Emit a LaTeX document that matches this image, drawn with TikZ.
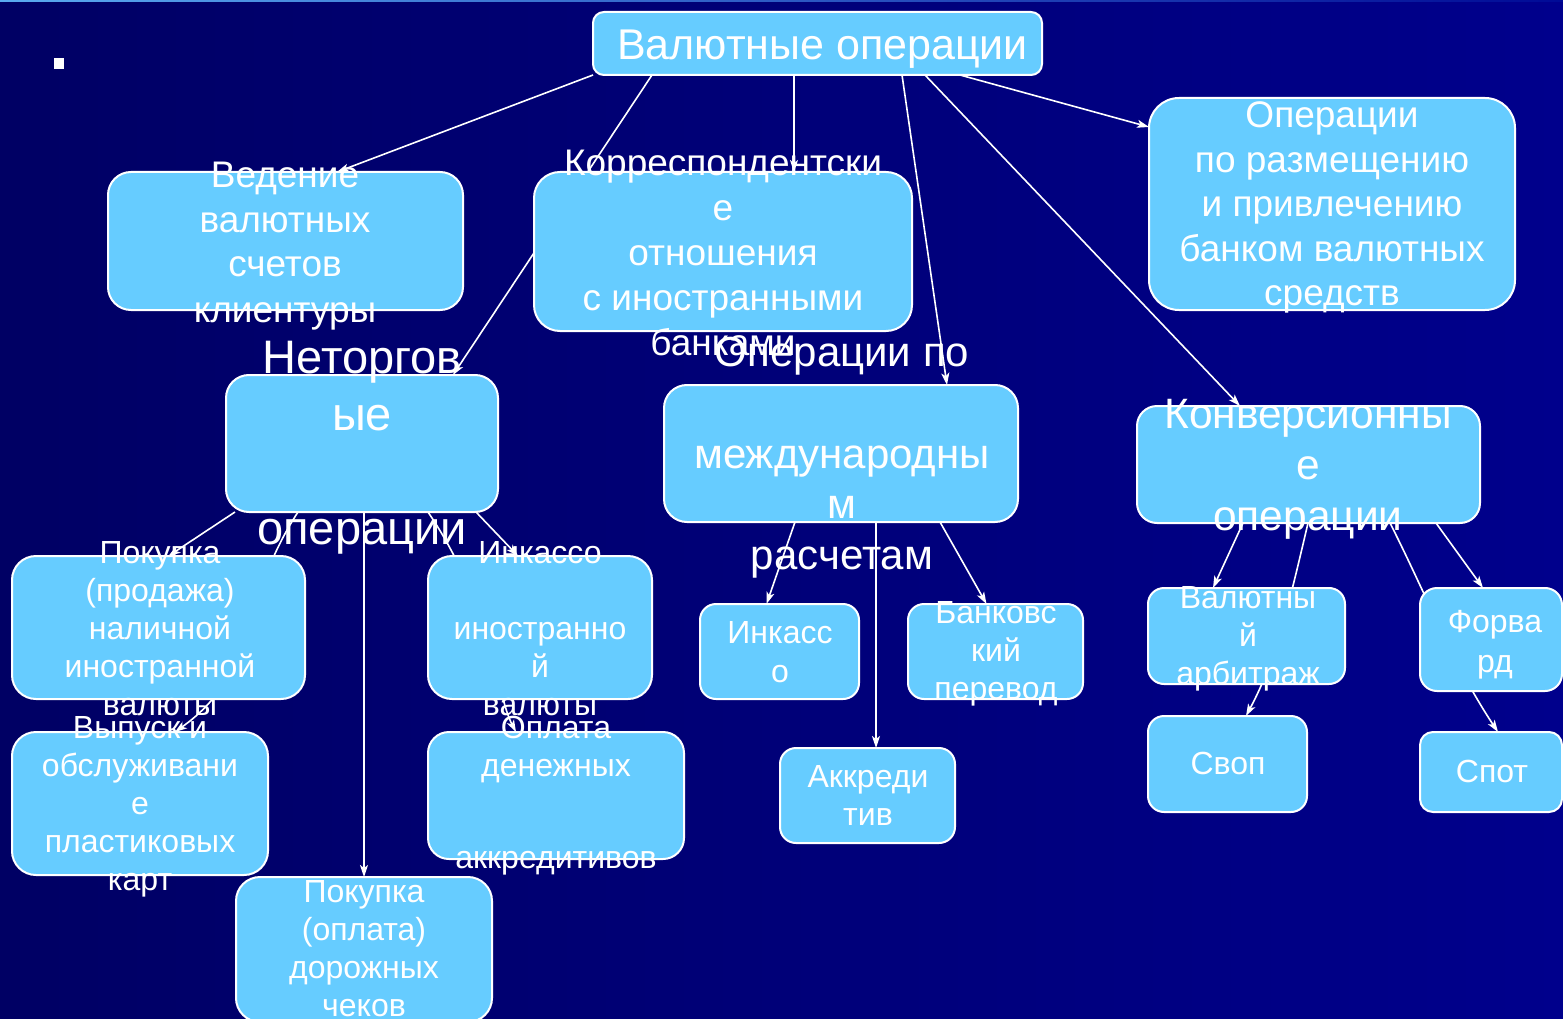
\documentclass[tikz,border=0pt]{standalone}
\usepackage{fontspec}
\setmainfont{Liberation Sans}
\usetikzlibrary{arrows.meta}
\definecolor{boxblue}{RGB}{102,204,255}
\definecolor{bgleft}{RGB}{0,0,100}
\definecolor{bgright}{RGB}{0,0,140}
\pgfdeclarelayer{bg}
\pgfdeclarelayer{lines}
\pgfsetlayers{bg,lines,main}
\newcommand{\rows}[3]{\fontsize{#1}{#2}\selectfont\begin{tabular}{@{}c@{}}#3\end{tabular}}
\tikzset{
  box/.style={draw=white, line width=2pt, fill=boxblue, rounded corners=#1, inner sep=0pt, outer sep=0pt},
  txt/.style={text=white, inner sep=0pt, outer sep=0pt, anchor=center},
  conn/.style={draw=white, line width=1.6pt, -{Stealth[length=12pt,width=8pt,inset=3pt]}},
}
\begin{document}
\begin{tikzpicture}[x=1pt,y=-1pt]
\useasboundingbox (0,0) rectangle (1563,1019);
\begin{pgfonlayer}{bg}
  \shade[left color=bgleft, right color=bgright] (0,0) rectangle (1563,1019);
  \shade[left color={rgb,255:red,90;green,170;blue,240}, right color={rgb,255:red,0;green,10;blue,150}] (0,0) rectangle (1563,1.5);
  \fill[white] (54,58) rectangle (64,69);
\end{pgfonlayer}

% boxes
\node[box=11pt, minimum width=449pt, minimum height=63pt]  (top)  at (817.5,43.5) {};
\node[box=23pt, minimum width=355pt, minimum height=138pt] (ved)  at (285.5,241) {};
\node[box=26pt, minimum width=378pt, minimum height=159pt] (kor)  at (723,251.5) {};
\node[box=30pt, minimum width=366pt, minimum height=212pt] (razm) at (1332,204) {};
\node[box=23pt, minimum width=272pt, minimum height=137pt] (neto) at (362,443.5) {};
\node[box=23pt, minimum width=354pt, minimum height=137pt] (mezh) at (841,453.5) {};
\node[box=20pt, minimum width=343pt, minimum height=117pt] (konv) at (1308.5,464.5) {};
\node[box=24pt, minimum width=293pt, minimum height=143pt] (pok)  at (158.5,627.5) {};
\node[box=24pt, minimum width=224pt, minimum height=143pt] (ink1) at (540,627.5) {};
\node[box=24pt, minimum width=256pt, minimum height=143pt] (vyp)  at (140,803.5) {};
\node[box=21pt, minimum width=256pt, minimum height=127pt] (opl)  at (556,795.5) {};
\node[box=24pt, minimum width=256pt, minimum height=145pt] (cheq) at (364,949.5) {};
\node[box=16pt, minimum width=159pt, minimum height=95pt]  (ink2) at (779.5,651.5) {};
\node[box=16pt, minimum width=175pt, minimum height=95pt]  (bank) at (995.5,651.5) {};
\node[box=16pt, minimum width=175pt, minimum height=95pt]  (akk)  at (867.5,795.5) {};
\node[box=16pt, minimum width=197pt, minimum height=96pt]  (arb)  at (1246.5,636) {};
\node[box=17pt, minimum width=142pt, minimum height=103pt] (forw) at (1491,639.5) {};
\node[box=16pt, minimum width=159pt, minimum height=96pt]  (svop) at (1227.5,764) {};
\node[box=13pt, minimum width=142pt, minimum height=80pt]  (spot) at (1491,772) {};

% connectors (under the boxes)
\begin{pgfonlayer}{lines}
  \draw[conn] ([xshift=-224.5pt]top.south) -- ([xshift=51.5pt]ved.north);
  \draw[conn] ([xshift=-165.5pt]top.south) -- ([xshift=91pt]neto.north);
  \draw[conn] ([xshift=-23.5pt]top.south) -- ([xshift=71pt]kor.north);
  \draw[conn] ([xshift=84.5pt]top.south) -- ([xshift=106pt]mezh.north);
  \draw[conn] ([xshift=107.5pt]top.south) -- ([xshift=-68.5pt]konv.north);
  \draw[conn] ([xshift=142.5pt]top.south) -- ([yshift=77pt]razm.west);

  \draw[conn] ([xshift=-127pt]neto.south) -- ([xshift=10pt]pok.north);
  \draw[conn] ([xshift=-64pt]neto.south) .. controls +(-60,92) and +(84,-60) .. ([xshift=35pt]vyp.north);
  \draw[conn] ([xshift=2pt]neto.south) -- (cheq.north);
  \draw[conn] ([xshift=66pt]neto.south) .. controls +(64,94) and +(-20,-38) .. ([xshift=-40pt]opl.north);
  \draw[conn] ([xshift=114pt]neto.south) -- ([xshift=-22pt]ink1.north);

  \draw[conn] ([xshift=-46pt]mezh.south) -- ([xshift=-13pt]ink2.north);
  \draw[conn] ([xshift=35pt]mezh.south) -- ([xshift=8.5pt]akk.north);
  \draw[conn] ([xshift=99pt]mezh.south) -- ([xshift=-9pt]bank.north);

  \draw[conn] ([xshift=-65.5pt]konv.south) -- ([xshift=-33.5pt]arb.north);
  \draw[conn] ([xshift=-0.5pt]konv.south) .. controls +(-19.5,83) and +(30,-56) .. ([xshift=18.5pt]svop.north);
  \draw[conn] ([xshift=81.5pt]konv.south) .. controls +(36,71) and +(-45,-67.5) .. ([xshift=7pt]spot.north);
  \draw[conn] ([xshift=127.5pt]konv.south) -- ([xshift=-8pt]forw.north);
\end{pgfonlayer}

% texts
\node[txt] (t-top)  at (822.5,49.5) {\rows{43}{49}{Валютные операции}};
\node[txt] (t-ved)  at (285,245.5)  {\rows{37}{45}{Ведение\\валютных\\счетов\\клиентуры}};
\node[txt] (t-kor)  at (723,256)    {\rows{37}{45}{Корреспондентски\\е\\отношения\\с иностранными\\банками}};
\node[txt] (t-razm) at (1332,208)   {\rows{37}{44.5}{Операции\\по размещению\\и привлечению\\банком валютных\\средств}};
\node[txt] (t-neto) at (362,448)    {\rows{47}{57}{Неторгов\\ые\\\\операции}};
\node[txt] (t-mezh) at (842,458)    {\rows{42}{50.75}{Операции по\\\\международны\\м\\расчетам}};
\node[txt] (t-konv) at (1308,469)   {\rows{42.5}{51}{Конверсионны\\е\\операции}};
\node[txt] (t-pok)  at (160,631.8)  {\rows{32}{38}{Покупка\\(продажа)\\наличной\\иностранной\\валюты}};
\node[txt] (t-ink1) at (540,631.5)  {\rows{32}{38}{Инкассо\\\\иностранно\\й\\валюты}};
\node[txt] (t-vyp)  at (140,806.5)  {\rows{32}{38}{Выпуск и\\обслуживани\\е\\пластиковых\\карт}};
\node[txt] (t-opl)  at (556,795.3)  {\rows{32}{38.5}{Оплата\\денежных\\[14.5pt]\\аккредитивов}};
\node[txt] (t-cheq) at (364,951.8)  {\rows{32}{38.3}{Покупка\\(оплата)\\дорожных\\чеков}};
\node[txt] (t-ink2) at (780,654.7)  {\rows{32}{39}{Инкасс\\о}};
\node[txt] (t-bank) at (996,654.3)  {\rows{32}{38}{Банковс\\кий\\перевод}};
\node[txt] (t-akk)  at (868,799)    {\rows{32}{38}{Аккреди\\тив}};
\node[txt] (t-arb)  at (1248,638.5) {\rows{32}{38}{Валютны\\й\\арбитраж}};
\node[txt] (t-forw) at (1495,644)   {\rows{32}{40}{Форва\\рд}};
\node[txt] (t-svop) at (1228,767)   {\rows{32}{38}{Своп}};
\node[txt] (t-spot) at (1492,775)   {\rows{32}{38}{Спот}};
\end{tikzpicture}
\end{document}
